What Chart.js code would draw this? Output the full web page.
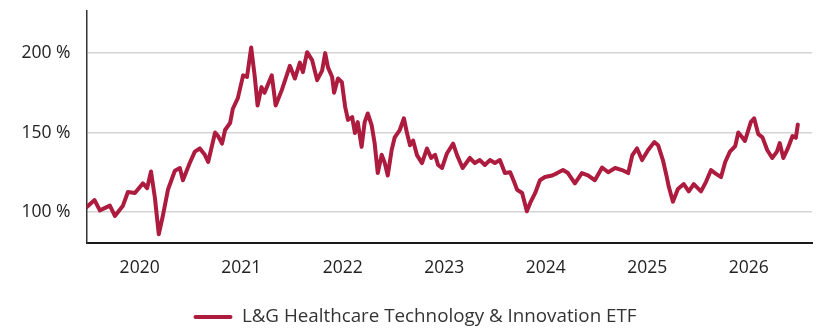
<!DOCTYPE html>
<html>
<head>
<meta charset="utf-8">
<script src="https://cdn.jsdelivr.net/npm/chart.js@4.4.1/dist/chart.umd.min.js"></script>
<style>
  html, body { margin: 0; padding: 0; background: #ffffff; }
  #wrap { width: 816px; height: 329px; }
</style>
</head>
<body>
<div id="wrap"><canvas id="chart" width="816" height="329"></canvas></div>
<script>
// Fund performance, indexed (%), trading dates
const seriesName = 'L&G Healthcare Technology & Innovation ETF';

const dates = [
  '2019-06-24','2019-07-23','2019-08-11','2019-09-16','2019-10-04','2019-11-02','2019-11-20','2019-12-15',
  '2020-01-13','2020-01-28','2020-02-11','2020-02-25','2020-03-10','2020-03-24','2020-04-12','2020-05-07',
  '2020-05-25','2020-06-05','2020-06-30','2020-07-18','2020-08-05','2020-08-23','2020-09-04','2020-09-29',
  '2020-10-09','2020-10-24','2020-11-04','2020-11-22','2020-12-02','2020-12-20',
  '2021-01-08','2021-01-22','2021-02-06','2021-02-19','2021-03-01','2021-03-15','2021-03-26','2021-04-21',
  '2021-05-05','2021-05-27','2021-06-25','2021-07-13','2021-07-31','2021-08-11','2021-08-26','2021-09-13',
  '2021-10-01','2021-10-19','2021-10-30','2021-11-09','2021-11-24','2021-12-01','2021-12-15','2021-12-29',
  '2022-01-10','2022-01-20','2022-02-04','2022-02-14','2022-02-24','2022-03-10','2022-03-21','2022-04-01',
  '2022-04-15','2022-04-26','2022-05-07','2022-05-21','2022-06-01','2022-06-12','2022-06-26','2022-07-07',
  '2022-07-25','2022-08-09','2022-08-20','2022-08-31','2022-09-11','2022-09-25','2022-10-13','2022-10-31',
  '2022-11-15','2022-11-29','2022-12-10','2022-12-24',
  '2023-01-11','2023-02-02','2023-02-16','2023-03-08','2023-04-03','2023-04-21','2023-05-09','2023-05-27',
  '2023-06-14','2023-07-02','2023-07-20','2023-08-07','2023-08-26','2023-09-09','2023-09-20','2023-10-08',
  '2023-10-25','2023-11-06','2023-11-24','2023-12-11','2023-12-29',
  '2024-01-24','2024-02-11','2024-03-03','2024-03-21','2024-04-15','2024-05-10','2024-06-01','2024-06-26',
  '2024-07-22','2024-08-13','2024-09-07','2024-10-02','2024-10-24','2024-11-08','2024-11-25','2024-12-13',
  '2025-01-04','2025-01-26','2025-02-09','2025-02-26','2025-03-12','2025-03-19','2025-04-03','2025-04-21',
  '2025-05-12','2025-05-30','2025-06-17','2025-07-13','2025-07-31','2025-08-18','2025-09-05','2025-09-23',
  '2025-10-08','2025-10-25','2025-11-13','2025-11-24','2025-12-08','2025-12-18',
  '2026-01-08','2026-01-20','2026-02-04','2026-02-19','2026-03-08','2026-03-26','2026-04-12','2026-04-22',
  '2026-05-05','2026-05-21','2026-06-07','2026-06-19','2026-06-26'
];

const values = [
  103, 107.5, 101, 104, 97.5, 104, 112.6, 112,
  118, 115, 125.5, 109, 86, 97, 114, 126,
  127.7, 120, 131, 138, 140, 136, 131.5, 150,
  148, 143, 151.6, 156, 165, 171.7,
  186, 185, 203.5, 185, 167, 178.6, 175, 186,
  167, 176.7, 192, 184, 194, 188, 200.6, 195.6,
  183, 189, 200, 191, 185, 175, 184, 181.7,
  166, 158, 159.7, 149.7, 156.6, 141, 156.6, 162,
  154.7, 143, 124.5, 136, 131, 123, 139, 147,
  151.6, 159, 149.7, 142, 145, 135.8, 130.8, 140,
  134, 136, 129.6, 127.7,
  137, 143, 135.8, 127.7, 134, 130.8, 132.7, 129.6,
  132.7, 130.8, 132.7, 124.5, 125, 119, 114, 112,
  100.5, 105.7, 112, 120, 122,
  123, 124.5, 126.4, 124.5, 118, 124.5, 123, 120,
  128, 125, 127.7, 126.4, 124.5, 135.8, 140, 132.7,
  139, 144, 142, 132.7, 122, 116, 106.5, 114.5,
  117.6, 113, 117.6, 113, 119, 126.4, 124, 122,
  131.5, 138, 141.5, 150, 147, 144.7,
  156.6, 159, 149, 147, 139, 134, 138, 143.4,
  134, 140, 147.8, 146.7, 155
];

const yearTicks = [2020, 2021, 2022, 2023, 2024, 2025, 2026];
const valueTicks = [100, 150, 200];
const rangeEnd = '2026-08-16';

// date string -> fractional year for the linear x axis
function toYear(s) {
  const [y, m, d] = s.split('-').map(Number);
  const start = Date.UTC(y, 0, 1);
  const next = Date.UTC(y + 1, 0, 1);
  return y + (Date.UTC(y, m - 1, d) - start) / (next - start);
}

const points = dates.map((d, i) => ({ x: toYear(d), y: values[i] }));
const lineColor = '#ad1c3f';
const font = "'Open Sans', 'Noto Sans', sans-serif";

new Chart(document.getElementById('chart'), {
  type: 'line',
  data: {
    datasets: [{
      label: seriesName,
      data: points,
      borderColor: lineColor,
      backgroundColor: lineColor,
      borderWidth: 4,
      borderJoinStyle: 'round',
      borderCapStyle: 'round',
      pointRadius: 0,
      tension: 0
    }]
  },
  options: {
    responsive: false,
    devicePixelRatio: 1,
    animation: false,
    layout: { padding: { top: 11, right: 4, bottom: -7.4, left: 18 } },
    plugins: {
      tooltip: { enabled: false },
      legend: {
        position: 'bottom',
        labels: {
          font: { family: font, size: 18.8 },
          color: '#333333',
          boxWidth: 39,
          boxHeight: 4,
          useBorderRadius: true,
          borderRadius: 2,
          padding: 29.1,
          generateLabels: chart => chart.data.datasets.map((ds, i) => ({
            text: ds.label,
            fillStyle: ds.borderColor,
            strokeStyle: ds.borderColor,
            lineWidth: 0,
            borderRadius: 2,
            datasetIndex: i,
            fontColor: '#333333'
          }))
        }
      }
    },
    scales: {
      x: {
        type: 'linear',
        min: toYear(dates[0]),
        max: toYear(rangeEnd),
        afterBuildTicks: s => { s.ticks = yearTicks.map(v => ({ value: v })); },
        afterFit: s => { s.height = 35.5; s.paddingLeft = 0; s.paddingRight = 0; },
        grid: { display: false, drawTicks: false },
        border: { display: true, color: '#1a1a1a', width: 2 },
        ticks: {
          autoSkip: false,
          maxRotation: 0,
          padding: 14.5,
          color: '#222222',
          font: { family: font, size: 17.5 },
          callback: v => String(v)
        }
      },
      y: {
        min: 80.5,
        max: 226.5,
        afterBuildTicks: s => { s.ticks = valueTicks.map(v => ({ value: v })); },
        afterFit: s => { s.width = 68.5; s.paddingTop = 0; s.paddingBottom = 0; },
        grid: { color: '#d4d4d4', lineWidth: 1.5, drawTicks: false },
        border: { display: true, color: '#333333', width: 1.5 },
        ticks: {
          padding: 16,
          color: '#222222',
          font: { family: font, size: 17.5 },
          callback: v => v + ' %'
        }
      }
    }
  }
});
</script>
</body>
</html>
